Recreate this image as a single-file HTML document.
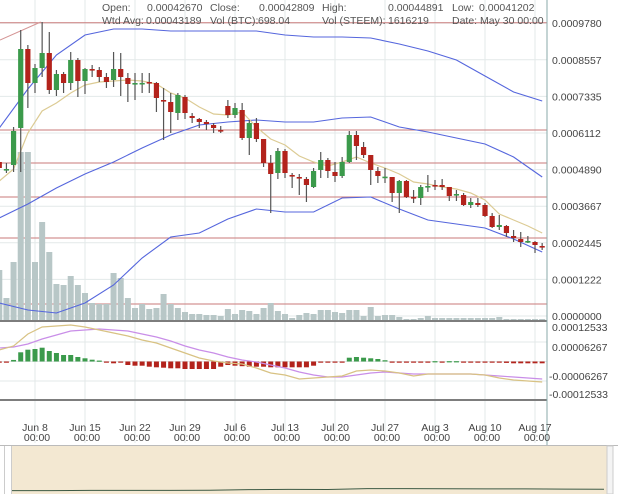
<!DOCTYPE html>
<html><head><meta charset="utf-8"><style>
html,body{margin:0;padding:0;background:#fff;width:618px;height:494px;overflow:hidden;font-family:"Liberation Sans",sans-serif}
svg{display:block}
text{font-family:"Liberation Sans",sans-serif}
</style></head><body>
<svg id="chart" width="618" height="494" viewBox="0 0 618 494" xmlns="http://www.w3.org/2000/svg">
<g id="grid"></g>
<g id="levels"></g>
<g id="vol"></g>
<g id="bands"></g>
<g id="candles"></g>
<g id="macd"></g>
<g id="axes"></g>
<g id="nav"></g>
<g id="header" font-size="10.5" fill="#555">
<text x="102" y="11">Open:</text>
<text x="147" y="11">0.00042670</text>
<text x="210" y="11">Close:</text>
<text x="259" y="11">0.00042809</text>
<text x="322" y="11">High:</text>
<text x="388" y="11">0.00044891</text>
<text x="452" y="11">Low:</text>
<text x="479" y="11">0.00041202</text>
<text x="102" y="24">Wtd Avg:</text>
<text x="146" y="24">0.00043189</text>
<text x="210" y="24">Vol (BTC):</text>
<text x="258" y="24">698.04</text>
<text x="322" y="24">Vol (STEEM):</text>
<text x="388" y="24">1616219</text>
<text x="452" y="24">Date: May 30 00:00</text>
</g>
</svg>
<script>
// ---- data (prices in 1e-8 BTC) ----
const opens  = [51436,48764,50434,62792,89178,77822,82832,87842,75484,80828,77822,85504,78490,82498,82164,79826,78824,82498,79492,77488,77822,78156,77822,72144,71476,67802,73146,66800,65798,64796,63794,62124,70140,67134,68804,59452,64462,59118,51102,47762,55110,47094,46426,45758,43086,48764,52104,48096,46760,51436,60454,56446,53774,48430,46426,46426,41082,45090,39746,39412,43086,43754,43754,43086,40414,40414,37074,37742,37074,33400,29726,30060,26720,25718,24716,24716,23380];
const highs  = [52772,51102,63126,95524,90514,84168,98196,94856,82164,81496,88176,86172,82832,83834,83166,81162,88176,87842,81162,81162,81162,81162,78156,76152,74482,74482,73814,67802,66132,65464,64462,63460,72144,71142,71142,65464,66132,59118,53774,56112,55778,47762,47428,46426,49432,54776,52772,51436,53106,61790,61790,58116,53774,49766,49432,46426,45424,45424,42084,43754,47094,45424,45758,43086,42084,41082,39412,39412,37742,34402,33734,30394,28724,28056,26720,25050,24382];
const lows   = [48764,47762,48096,48096,69472,74482,79826,74148,73480,74482,75484,73146,74148,79826,78156,76152,76486,73480,71476,72144,74482,74482,68136,58784,61122,65464,65798,64462,62792,62124,61122,61122,66132,66132,58784,53774,58116,49766,34402,45758,46092,42752,40414,38076,42752,46092,46092,44756,46092,51102,52104,52772,43754,44422,44422,38076,34402,39412,37742,37074,41416,42084,42084,38410,38410,36740,36072,36406,33066,29392,28724,26386,24716,23046,24382,21042,22044];
const closes = [49432,49098,61790,89178,77822,82832,87842,75484,80828,77822,85504,78490,82498,82164,79826,78156,82498,79826,77488,77822,77850,77822,72812,71810,68136,73814,67802,66132,64796,64128,62792,62000,67134,69472,59452,64462,59118,51102,47428,55110,47762,46760,46300,43754,48430,52104,48430,46760,51436,60454,56780,53774,48764,46760,46550,41082,45090,39746,39412,43086,43420,43420,43086,40080,40748,37074,38076,37074,33400,29726,30394,27722,26052,24716,25050,23714,23046];
const volumes = [500000,220000,580000,1680000,1680000,580000,980000,680000,360000,350000,440000,350000,270000,170000,160000,160000,470000,420000,220000,120000,160000,110000,120000,260000,160000,120000,80000,60000,60000,50000,50000,40000,110000,60000,100000,90000,60000,120000,170000,90000,60000,20000,50000,70000,60000,100000,100000,80000,70000,100000,100000,40000,130000,40000,50000,50000,30000,10000,10000,20000,40000,20000,20000,20000,20000,20000,20000,20000,20000,20000,30000,10000,10000,10000,10000,10000,10000];
// indicator samples every 2 candles (index = 2*k)
const emaLine = [45090,49098,61122,68470,71142,74482,77154,78156,78490,78824,78490,77488,74482,72812,69806,67468,67134,68136,63126,59118,57114,53440,51436,50100,51436,53106,51102,49432,47428,44756,44088,43086,42418,41082,38744,34068,32064,30060,27722];
const macdLine = [3692,4976,8828,11075,11396,11717,11075,10112,9149,8186,6902,5939,4334,2729,1124,161,-482,-803,-2087,-3692,-4334,-5618,-5297,-4976,-4655,-3050,-2729,-3050,-3692,-4655,-4013,-4013,-4013,-4013,-4334,-5297,-5939,-6260,-6581];
const signalLine = [4334,4655,5618,7223,8507,9791,10112,10433,10112,9791,8828,7865,6581,4976,3692,2729,1445,482,-161,-1124,-2087,-3371,-4334,-4976,-4976,-4334,-3692,-3371,-3692,-4013,-4013,-4013,-4013,-4013,-4334,-4655,-4976,-5297,-5618];
// bands sampled every 4 candles
const upperBand = [62792,75818,87174,93854,95858,95858,95190,95190,95190,95190,93854,93186,93186,92852,90848,88510,85504,80160,74816,71810];
const middleBand = [32732,37408,42752,47428,51436,56112,60454,63794,64796,65464,64796,64796,66132,66466,63126,61456,59452,57448,53106,46426];
const lowerBand = [4342,2004,1002,4342,10354,19372,26386,27722,32398,35738,34736,34736,39412,39746,35738,32064,30728,29392,25718,21376];
const histogram = [-300,-300,500,2953,3788,4013,4430,3371,2729,2087,2087,1445,1027,578,300,-300,-578,-385,-1124,-1348,-1348,-1669,-1862,-1990,-2183,-2183,-2408,-2408,-2408,-2408,-2408,-1669,-1124,-1348,-1500,-1669,-1669,-1669,-1862,-1862,-1862,-1862,-1862,-1862,-1348,-257,-100,-100,-100,1220,1445,1220,1027,803,400,-150,-150,-150,-200,-200,-100,100,-100,100,100,-150,-100,-150,-250,-385,-385,-450,-578,-578,-578,-578,-578];
const priceTicks = [110020,97800,85570,73350,61120,48900,36670,24450,12220,0];
const priceTickLabels = ["0.0011002","0.0009780","0.0008557","0.0007335","0.0006112","0.0004890","0.0003667","0.0002445","0.0001222","0.0000000"];
const levelPrices = [97962,62124,51102,39746,26052,4008];
const trendLine = [{j:0.1,p:92184},{j:5.8,p:98196}];
const macdTicks = [12533,6267,-6267,-12533];
const macdTickLabels = ["0.00012533","0.00006267","-0.00006267","-0.00012533"];
const dateLabels = ["Jun 8","Jun 15","Jun 22","Jun 29","Jul 6","Jul 13","Jul 20","Jul 27","Aug 3","Aug 10","Aug 17"];
const navValues = [30,30,32,32,32,33,40,42,41,50,50,49,47,47,45,43];

// ---- scales ----
const NS='http://www.w3.org/2000/svg';
const xOf = j => 35 + 7.143*(j-5);
const yP = p => 316 - p/334;
const yV = v => 320 - v/10000;
const yM = m => 361.5 - m/321;
function mk(tag, attrs, parent){const e=document.createElementNS(NS,tag);for(const k in attrs)e.setAttribute(k,attrs[k]);parent.appendChild(e);return e;}
const G=id=>document.getElementById(id);

// grid
const grid=G('grid');
priceTicks.forEach((p,i)=>{const l=mk('line',{x1:0,x2:547,y1:yP(p),y2:yP(p),stroke:'#e3e9e9','stroke-width':1},grid);

});
dateLabels.forEach((d,k)=>{const x=35+50*k;const l=mk('line',{x1:x,x2:x,y1:0,y2:443,stroke:'#e3e9e9','stroke-width':1},grid);

});
[6267,0,-6267].forEach(m=>{const l=mk('line',{x1:0,x2:547,y1:yM(m),y2:yM(m),stroke:'#e3e9e9','stroke-width':1},grid);

});

// levels
const lv=G('levels');
levelPrices.forEach(p=>{const l=mk('line',{x1:0,x2:547,y1:yP(p),y2:yP(p),stroke:'#c97a7a','stroke-width':1},lv);

});
{const l=mk('line',{x1:xOf(trendLine[0].j),y1:yP(trendLine[0].p),x2:xOf(trendLine[1].j),y2:yP(trendLine[1].p),stroke:'#d49494','stroke-width':1},lv);

}

// volume
const vg=G('vol');
volumes.forEach((v,j)=>{const x=xOf(j);const r=mk('rect',{x:x-3,y:yV(v),width:6,height:320-yV(v),fill:'#b8c7c7'},vg);

});

// bands & ema
function line(arr,step,color,name,yf,parent,w){const pts=arr.map((p,k)=>xOf(k*step).toFixed(1)+','+yf(p).toFixed(1)).join(' ');
const e=mk('polyline',{points:pts,fill:'none',stroke:color,'stroke-width':w||1.1},parent);

return e;}
const bg=G('bands');
line(upperBand,4,'#5566dd','upper-band',yP,bg);
line(middleBand,4,'#5566dd','middle-band',yP,bg);
line(lowerBand,4,'#5566dd','lower-band',yP,bg);
line(emaLine,2,'#dccb94','moving-average',yP,bg,1.2);

// candles
const cg=G('candles');
opens.forEach((o,j)=>{const c=closes[j],h=highs[j],l=lows[j],x=xOf(j);
const up=c>=o;const col=up?'#3b9a4b':'#b3231c';
const w=mk('line',{x1:x,x2:x,y1:yP(h),y2:yP(l),stroke:'#555','stroke-width':1.2},cg);


const t=Math.min(yP(o),yP(c));const hh=Math.max(1.6,Math.abs(yP(o)-yP(c)));
const b=mk('rect',{x:x-2.6,y:t,width:5.2,height:hh,fill:col},cg);

});

// macd
const mg=G('macd');
histogram.forEach((m,j)=>{const x=xOf(j);const y0=yM(0),y1=yM(m);
const r=mk('rect',{x:x-2.5,y:Math.min(y0,y1),width:5,height:Math.max(1.2,Math.abs(y1-y0)),fill:m>=0?'#3b9a4b':'#b3231c'},mg);

});
line(signalLine,2,'#c98ee8','macd-signal-line',yM,mg,1.2);
line(macdLine,2,'#d8c283','macd-line',yM,mg,1.2);

// axes
const ax=G('axes');
{const a=mk('rect',{x:0,y:320,width:547,height:2,fill:'#7d7d7d'},ax);
}
{const a=mk('rect',{x:0,y:399,width:547,height:2,fill:'#7d7d7d'},ax);
}
{const a=mk('line',{x1:547,x2:547,y1:0,y2:445,stroke:'#8aa',"stroke-width":1},ax);
}
priceTicks.forEach((p,i)=>{const t=mk('text',{x:552,y:yP(p)+4,'font-size':'10.5',fill:'#444'},ax);t.textContent=priceTickLabels[i];

});
const macdLabelY=[327,347,376,394];
macdTicks.forEach((m,i)=>{const t=mk('text',{x:i>1?549:552,y:macdLabelY[i]+4,'font-size':'10.5',fill:'#444'},ax);t.textContent=macdTickLabels[i];

});
dateLabels.forEach((d,k)=>{const x=35+50*k;
const t=mk('text',{x:x,y:431,'font-size':'10.5',fill:'#444','text-anchor':'middle'},ax);t.textContent=d;


const t2=mk('text',{x:x+2,y:441,'font-size':'10.5',fill:'#444','text-anchor':'middle'},ax);t2.textContent='00:00';

});

// navigator
const nv=G('nav');
{const r=mk('rect',{x:0,y:445,width:618,height:49,fill:'#fff'},nv);
}
{const r=mk('line',{x1:0,x2:618,y1:445.5,y2:445.5,stroke:'#bbb'},nv);
}
{const r=mk('rect',{x:12,y:446,width:595,height:48,fill:'#f3e8d2'},nv);
}
{const r=mk('line',{x1:4.5,x2:4.5,y1:446,y2:494,stroke:'#ccc'},nv);
}
{const r=mk('line',{x1:11.5,x2:11.5,y1:446,y2:494,stroke:'#ccc'},nv);
}
{const r=mk('rect',{x:607,y:446,width:6,height:48,fill:'#f4f4f4',stroke:'#ccc'},nv);
}
{const pts=navValues.map((v,k)=>(12+k*592/(navValues.length-1)).toFixed(1)+','+(493.6-v/10).toFixed(1)).join(' ');
const e=mk('polyline',{points:pts,fill:'none',stroke:'#3d5a45','stroke-width':1},nv);

}
</script>
</body></html>
